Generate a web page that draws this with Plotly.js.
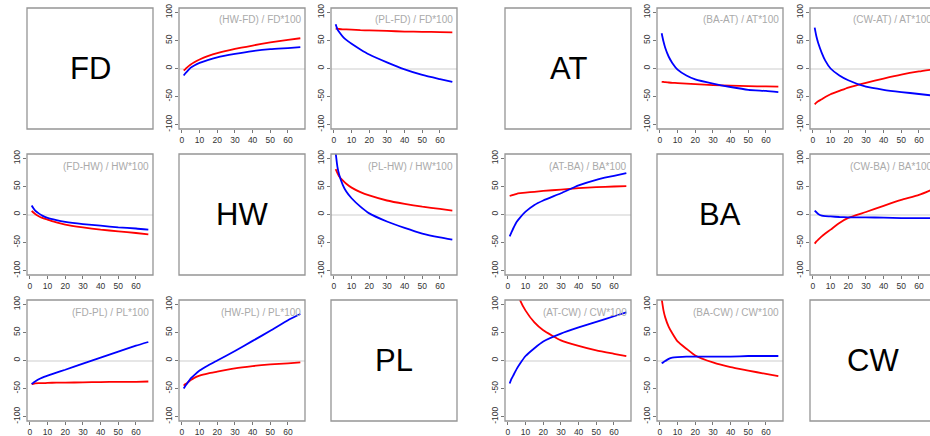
<!DOCTYPE html>
<html>
<head>
<meta charset="utf-8">
<script src="https://cdn.plot.ly/plotly-3.0.1.min.js"></script>
<style>html,body{margin:0;padding:0;background:#fff;}#chart{width:930px;height:436px;}</style>
</head>
<body>
<div id="chart"></div>
<script>
// ---- data ----
var xs = [1, 2, 3, 5, 7, 10, 15, 20, 30, 40, 50, 60, 67];
var xTicks = [0, 10, 20, 30, 40, 50, 60];
var yTicks = [-100, -50, 0, 50, 100];

var hwfd_red  = [-3.5, -1, 2, 7, 11, 16, 22.5, 27.5, 35, 41, 46.5, 51, 54];
var hwfd_blue = [-12.5, -8.5, -5, 1.5, 5.5, 10, 15.5, 20, 26, 31, 34.5, 36.5, 38];
var plfd_red  = [71, 71, 70.5, 70, 70, 69.5, 68.5, 68, 67, 66, 65.5, 65, 64.5];
var plfd_blue = [79, 70, 65, 57, 51, 44, 34, 25, 11, -1.5, -11.5, -19, -24];
var fdhw_red  = [6.5, 3.5, 1, -3, -6, -9, -14, -18, -23, -27, -30, -33, -35.5];
var fdhw_blue = [16, 11, 7, 2, -2, -6, -10, -13, -17, -20, -23, -25, -27];
var plhw_red  = [81, 74, 68, 61, 55, 48, 40, 34, 25, 19, 14, 10, 7];
var plhw_blue = [110, 85, 71, 53, 41, 29, 14, 2, -12.5, -24, -34, -41, -45];
var fdpl_red  = [-42, -41.5, -41, -40.5, -40.5, -40, -39.5, -39.5, -39, -38.5, -38, -38, -37.5];
var fdpl_blue = [-42, -39.5, -37.5, -33.5, -30.5, -27, -21.5, -16.5, -5.5, 5, 16, 26.5, 33];
var hwpl_red  = [-45, -42, -40, -35, -31, -27, -23, -20, -14, -10, -7, -5, -3.5];
var hwpl_blue = [-50, -45, -41, -32, -26, -18, -8.5, 0, 17, 35, 53, 72, 83];

var baat_red  = [-23.7, -24, -24.5, -25, -25.5, -26, -27, -28, -29.5, -30.5, -31.5, -32, -32.5];
var baat_blue = [63, 48.5, 37, 21, 10, -2, -12.5, -19.5, -27, -33, -38, -40, -42];
var cwat_red  = [-64, -61, -58.5, -55, -51, -46, -40, -34, -25.5, -18, -11, -5.3, -2];
var cwat_blue = [73, 57, 45.5, 28, 14, 0, -12.5, -21, -32.5, -38, -42, -45.5, -48];
var atba_red  = [33, 34, 35, 37, 38, 39, 40.5, 42, 44.5, 47, 48.7, 50, 50.5];
var atba_blue = [-39, -32, -25, -13, -5, 5, 17, 25, 38, 52, 62, 69, 74];
var cwba_red  = [-52, -48, -45, -39, -34, -27, -15, -6, 4.5, 15.5, 26, 35, 44];
var cwba_blue = [7, 4, 1, -2, -3, -3.5, -4.5, -5, -5.3, -5.5, -6.5, -6.5, -6.5];
var atcw_red  = [null, null, null, 125, 107, 89, 68, 54, 36, 26, 18, 12, 8];
var atcw_blue = [-41, -33, -27, -15, -5, 8, 22, 34, 48, 59, 69, 79, 86];
var bacw_red  = [110, 90, 77, 60, 48.5, 34, 21, 9, -3.5, -12, -18, -24, -28];
var bacw_blue = [-5, -3, -1, 3, 5, 6, 7, 7, 7, 7, 8, 8, 8];

var diagLabels = ["FD", "HW", "PL", "AT", "BA", "CW"];

// ---- layout geometry (pixels) ----
var W = 930, H = 436;
var colX = [[27, 179, 331], [505, 657, 810]];
var rowY = [8, 154, 300];
var boxW = 126, boxH = 121;

var panels = [
  {g: 0, r: 0, c: 1, t: "(HW-FD) / FD*100", red: hwfd_red, blue: hwfd_blue},
  {g: 0, r: 0, c: 2, t: "(PL-FD) / FD*100", red: plfd_red, blue: plfd_blue},
  {g: 0, r: 1, c: 0, t: "(FD-HW) / HW*100", red: fdhw_red, blue: fdhw_blue},
  {g: 0, r: 1, c: 2, t: "(PL-HW) / HW*100", red: plhw_red, blue: plhw_blue},
  {g: 0, r: 2, c: 0, t: "(FD-PL) / PL*100", red: fdpl_red, blue: fdpl_blue},
  {g: 0, r: 2, c: 1, t: "(HW-PL) / PL*100", red: hwpl_red, blue: hwpl_blue},
  {g: 1, r: 0, c: 1, t: "(BA-AT) / AT*100", red: baat_red, blue: baat_blue},
  {g: 1, r: 0, c: 2, t: "(CW-AT) / AT*100", red: cwat_red, blue: cwat_blue},
  {g: 1, r: 1, c: 0, t: "(AT-BA) / BA*100", red: atba_red, blue: atba_blue},
  {g: 1, r: 1, c: 2, t: "(CW-BA) / BA*100", red: cwba_red, blue: cwba_blue},
  {g: 1, r: 2, c: 0, t: "(AT-CW) / CW*100", red: atcw_red, blue: atcw_blue},
  {g: 1, r: 2, c: 1, t: "(BA-CW) / CW*100", red: bacw_red, blue: bacw_blue}
];

var FONT = "Liberation Sans, Arial, sans-serif";
var traces = [];
var layout = {
  width: W, height: H,
  margin: {l: 0, r: 0, t: 0, b: 0},
  paper_bgcolor: "#fff", plot_bgcolor: "#fff",
  showlegend: false,
  font: {family: FONT, size: 8, color: "#333"},
  shapes: [], annotations: []
};

var xr0 = -1.64, xr1 = 69.64;
var pxPerUnit = boxW / (xr1 - xr0);

function boxShape(x0, y0, w, h) {
  return {type: "rect", xref: "paper", yref: "paper",
    x0: x0 / W, x1: (x0 + w) / W, y0: 1 - (y0 + h) / H, y1: 1 - y0 / H,
    line: {color: "#959595", width: 1.3}, layer: "above"};
}

panels.forEach(function (p, i) {
  var n = i + 1;
  var xa = "x" + (n === 1 ? "" : n), ya = "y" + (n === 1 ? "" : n);
  var x0 = colX[p.g][p.c], y0 = rowY[p.r];
  var x1 = x0 + boxW;
  var range1 = xr1;
  if (x1 > W) { range1 = xr0 + (W - x0) / pxPerUnit; x1 = W; }
  layout["xaxis" + (n === 1 ? "" : n)] = {
    domain: [x0 / W, x1 / W], anchor: ya, range: [xr0, range1],
    tickvals: xTicks, ticktext: xTicks.map(String), ticks: "outside", ticklen: 3,
    tickcolor: "#777", tickwidth: 1, showgrid: false, zeroline: false, showline: false,
    tickfont: {family: FONT, size: 8.5, color: "#333"}, fixedrange: true
  };
  layout["yaxis" + (n === 1 ? "" : n)] = {
    domain: [1 - (y0 + boxH) / H, 1 - y0 / H], anchor: xa, range: [-108, 108],
    tickvals: yTicks, ticktext: yTicks.map(String), ticks: "outside", ticklen: 3,
    tickcolor: "#777", tickwidth: 1, tickangle: -90, showgrid: false,
    zeroline: true, zerolinecolor: "#e6e6e6", zerolinewidth: 2, showline: false,
    tickfont: {family: FONT, size: 8.5, color: "#333"}, fixedrange: true
  };
  traces.push({x: xs, y: p.red, xaxis: xa, yaxis: ya, type: "scatter", mode: "lines",
    line: {color: "#ff0000", width: 1.8, shape: "spline", smoothing: 0.5}, connectgaps: false, hoverinfo: "skip"});
  traces.push({x: xs, y: p.blue, xaxis: xa, yaxis: ya, type: "scatter", mode: "lines",
    line: {color: "#0000ff", width: 1.8, shape: "spline", smoothing: 0.5}, connectgaps: false, hoverinfo: "skip"});
  layout.shapes.push(boxShape(x0, y0, boxW, boxH));
  layout.annotations.push({xref: "paper", yref: "paper",
    x: (x0 + boxW - 2) / W, y: 1 - (y0 + 12) / H, xanchor: "right", yanchor: "middle",
    text: p.t, showarrow: false, font: {family: FONT, size: 10, color: "#aaaaaa"}});
});

// diagonal label panels
var diagPos = [[0, 0, 0], [0, 1, 1], [0, 2, 2], [1, 0, 0], [1, 1, 1], [1, 2, 2]];
diagPos.forEach(function (d, i) {
  var x0 = colX[d[0]][d[2]], y0 = rowY[d[1]];
  layout.shapes.push(boxShape(x0, y0, boxW, boxH));
  layout.annotations.push({xref: "paper", yref: "paper",
    x: (x0 + boxW / 2) / W, y: 1 - (y0 + boxH / 2) / H, xanchor: "center", yanchor: "middle",
    text: diagLabels[i], showarrow: false, font: {family: FONT, size: 31, color: "#000"}});
});

Plotly.newPlot("chart", traces, layout, {staticPlot: true, displayModeBar: false});
</script>
</body>
</html>
